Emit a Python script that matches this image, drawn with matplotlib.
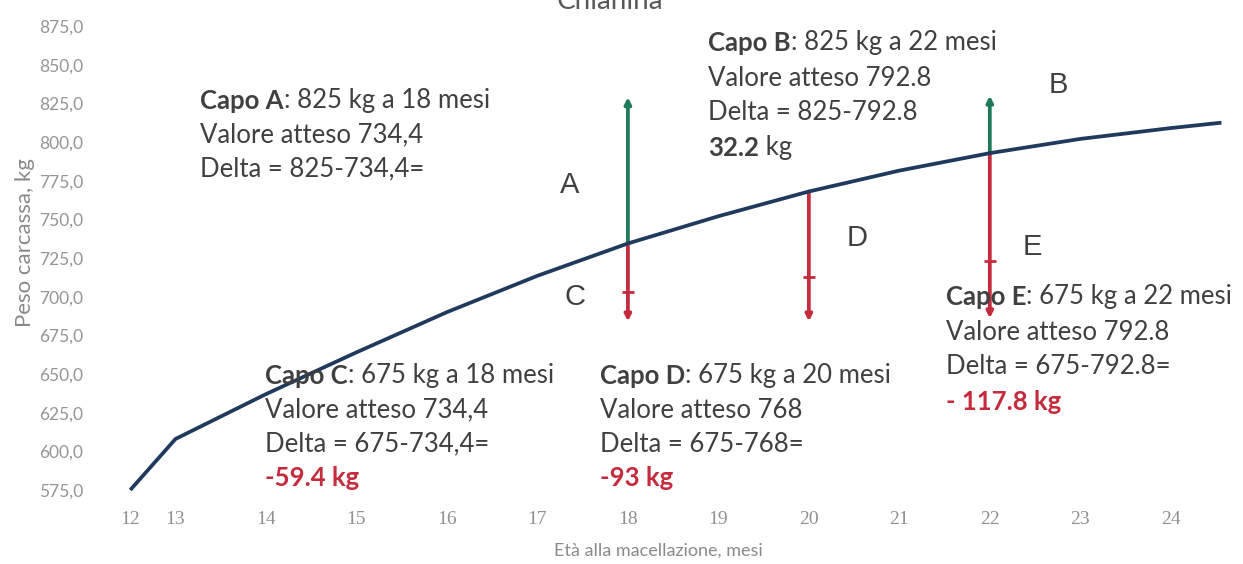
import numpy as np
import matplotlib
matplotlib.use("Agg")
import matplotlib.pyplot as plt

# ---------------- data ----------------
eta_mesi = [12, 13, 14, 15, 16, 17, 18, 19, 20, 21, 22, 23, 24, 24.56]
peso_kg = [575, 608, 637, 664, 690, 713.5, 734.4, 752, 768, 781.5, 792.8, 802, 809, 812.5]
x_ticks = [12, 13, 14, 15, 16, 17, 18, 19, 20, 21, 22, 23, 24]
y_ticks = [575, 600, 625, 650, 675, 700, 725, 750, 775, 800, 825, 850, 875]

capi = ["A", "B", "C", "D", "E"]
capi_eta = [18, 22, 18, 20, 22]
capi_atteso = [734.4, 792.8, 734.4, 768, 792.8]
capi_punta = [829, 830, 684, 684, 686]        # visual arrow tips
capi_tacca = [None, None, 703, 713, 723]       # small mark on red arrows

titolo = "Chianina"
x_label = "Età alla macellazione, mesi"
y_label = "Peso carcassa, kg"

# ---------------- style ----------------
W, H = 1243, 564
C_LINE = "#1f3a5c"
C_GREEN = "#1e7a58"
C_RED = "#c42b3c"
C_TXT = "#404040"
C_GREY = "#8a8a8a"
FT = "Lato"

fig = plt.figure(figsize=(W / 100, H / 100), dpi=100)
L, R, T, B = 90, 1235, 26, 490
ax = fig.add_axes([L / W, 1 - B / H, (R - L) / W, (B - T) / H])


def fwd(x):
    x = np.asarray(x, float)
    return np.where(x < 13, 12.5 + (x - 12) * 0.5, x)


def inv(p):
    p = np.asarray(p, float)
    return np.where(p < 13, 12 + (p - 12.5) * 2, p)


ax.set_xscale("function", functions=(fwd, inv))
ax.set_xlim(11.11, 24.71)
ax.set_ylim(575, 875)

ax.plot(eta_mesi, peso_kg, color=C_LINE, lw=2.7, clip_on=False, zorder=3,
        solid_capstyle="butt")

for lab, e, a, p, t in zip(capi, capi_eta, capi_atteso, capi_punta, capi_tacca):
    col = C_GREEN if p > a else C_RED
    ax.annotate("", xy=(e, p), xytext=(e, a),
                arrowprops=dict(arrowstyle="-|>", color=col, lw=2.7,
                                mutation_scale=9, shrinkA=0, shrinkB=0),
                zorder=2)
    if t is not None:
        ax.plot([e], [t], marker="_", ms=8, mew=2, color=col, zorder=2)

for s in ax.spines.values():
    s.set_visible(False)

ax.set_xticks(x_ticks)
ax.set_xticklabels([str(v) for v in x_ticks], fontfamily="Liberation Serif",
                   fontsize=14, color="#909090")
ax.set_yticks(y_ticks)
ax.set_yticklabels([f"{v:.1f}".replace(".", ",") for v in y_ticks],
                   fontfamily=FT, fontsize=12.5, color="#959595")
ax.tick_params(axis="both", length=0)
ax.tick_params(axis="x", pad=15)
ax.tick_params(axis="y", pad=5)
ax.minorticks_off()


def px(x, y):
    return x / W, 1 - y / H


fig.text(*px(25, 243), y_label, rotation=90, ha="center", va="center",
         fontsize=16, color=C_GREY, fontfamily=FT)
fig.text(*px(658, 551), x_label, ha="center", va="center",
         fontsize=13, color=C_GREY, fontfamily=FT)
fig.text(*px(610, 9), titolo, ha="center", va="baseline",
         fontsize=20, color="#595959", fontfamily=FT)

# letters
lettere_pos = {"A": (570, 185), "B": (1058, 85), "C": (575, 297),
               "D": (857, 238), "E": (1032, 247)}
for k, (lx, ly) in lettere_pos.items():
    fig.text(*px(lx, ly), k, ha="center", va="center", fontsize=21,
             color=C_TXT, fontfamily="Liberation Sans")

_state = {}


def riga(x, y, parts, size=18.5):
    first = True
    for txt, bold, col in parts:
        kw = dict(fontsize=size, color=col, fontfamily=FT,
                  fontweight="bold" if bold else "normal")
        if first:
            a = fig.text(*px(x, y), txt, ha="left", va="center", **kw)
            first = False
        else:
            a = ax.annotate(txt, xy=(1, 0), xycoords=_state["p"],
                            ha="left", va="bottom", annotation_clip=False, **kw)
        _state["p"] = a


def blocco(x, ys, righe):
    for y, parts in zip(ys, righe):
        riga(x, y, parts)


blocco(200, [101, 135, 169], [
    [("Capo A", True, C_TXT), (": 825 kg a 18 mesi", False, C_TXT)],
    [("Valore atteso 734,4", False, C_TXT)],
    [("Delta = 825-734,4=", False, C_TXT)],
])
blocco(708, [43, 78, 113, 148], [
    [("Capo B", True, C_TXT), (": 825 kg a 22 mesi", False, C_TXT)],
    [("Valore atteso 792.8", False, C_TXT)],
    [("Delta = 825-792.8", False, C_TXT)],
    [("32.2", True, C_TXT), (" kg", False, C_TXT)],
])
blocco(265, [376, 410, 444, 478], [
    [("Capo C", True, C_TXT), (": 675 kg a 18 mesi", False, C_TXT)],
    [("Valore atteso 734,4", False, C_TXT)],
    [("Delta = 675-734,4=", False, C_TXT)],
    [("-59.4 kg", True, C_RED)],
])
blocco(600, [376, 410, 444, 478], [
    [("Capo D", True, C_TXT), (": 675 kg a 20 mesi", False, C_TXT)],
    [("Valore atteso 768", False, C_TXT)],
    [("Delta = 675-768=", False, C_TXT)],
    [("-93 kg", True, C_RED)],
])
blocco(946, [297, 332, 367, 402], [
    [("Capo E", True, C_TXT), (": 675 kg a 22 mesi", False, C_TXT)],
    [("Valore atteso 792.8", False, C_TXT)],
    [("Delta = 675-792.8=", False, C_TXT)],
    [("- 117.8 kg", True, C_RED)],
])

fig.savefig("out.png", dpi=100, facecolor="white")
